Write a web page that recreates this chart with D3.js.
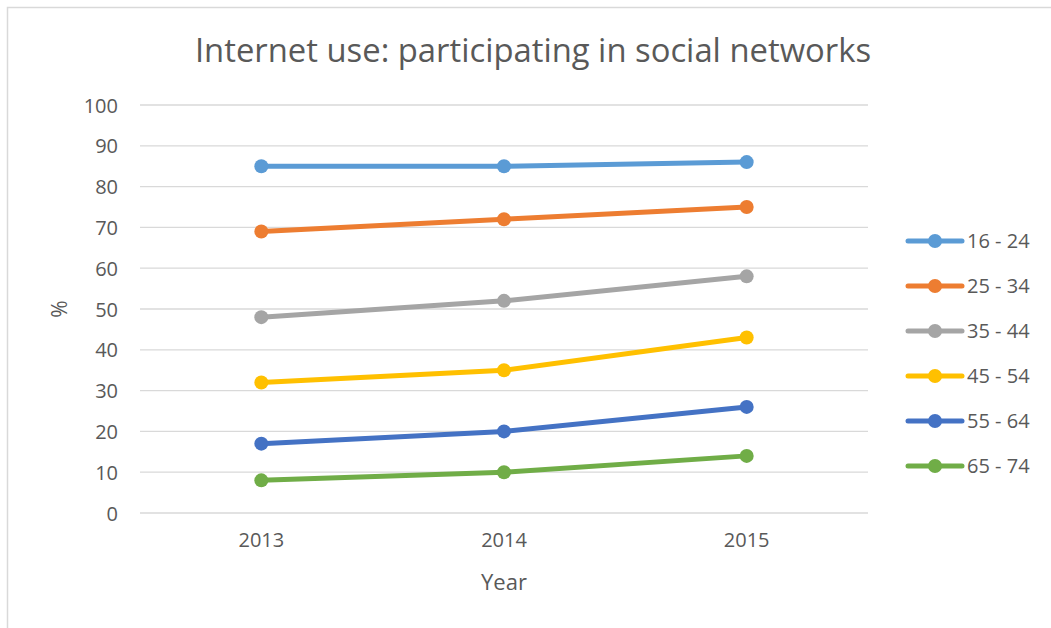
<!DOCTYPE html>
<html>
<head>
<meta charset="utf-8">
<script src="https://cdn.jsdelivr.net/npm/d3@7"></script>
<style>
  body { margin: 0; background: #fff; }
  text { font-family: "Open Sans", "Noto Sans", sans-serif; fill: #595959; }
</style>
</head>
<body>
<div id="chart"></div>
<script>
// data
const years = ["2013", "2014", "2015"];
const groups = ["16 - 24", "25 - 34", "35 - 44", "45 - 54", "55 - 64", "65 - 74"];
const v16 = [85, 85, 86];
const v25 = [69, 72, 75];
const v35 = [48, 52, 58];
const v45 = [32, 35, 43];
const v55 = [17, 20, 26];
const v65 = [8, 10, 14];
const yTicks = [0, 10, 20, 30, 40, 50, 60, 70, 80, 90, 100];
const colors = ["#5b9bd5", "#ed7d31", "#a5a5a5", "#ffc000", "#4472c4", "#70ad47"];

const seriesValues = [v16, v25, v35, v45, v55, v65];

const width = 1051, height = 628;

const svg = d3.select("#chart").append("svg")
    .attr("width", width)
    .attr("height", height);

// chart border
svg.append("rect")
    .attr("x", 7.5).attr("y", 7.5)
    .attr("width", width).attr("height", height)
    .attr("fill", "none")
    .attr("stroke", "#d9d9d9")
    .attr("stroke-width", 1.5);

const x = d3.scaleBand().domain(years).range([140, 868]);
const y = d3.scaleLinear().domain([0, 100]).range([513, 105]);

// gridlines
svg.append("g")
    .selectAll("line")
    .data(yTicks)
    .enter().append("line")
    .attr("x1", 140).attr("x2", 868)
    .attr("y1", d => y(d)).attr("y2", d => y(d))
    .attr("stroke", "#d9d9d9")
    .attr("stroke-width", 1.3);

// y axis labels
const yAxis = svg.append("g")
    .attr("transform", "translate(118,0)")
    .call(d3.axisLeft(y).tickValues(yTicks).tickSize(0).tickPadding(0));
yAxis.select(".domain").remove();
yAxis.selectAll("text")
    .style("font-size", "20px")
    .attr("fill", "#595959")
    .attr("dy", "0.35em");

// x axis labels
const xAxis = svg.append("g")
    .attr("transform", "translate(0,533)")
    .call(d3.axisBottom(x).tickSize(0).tickPadding(0));
xAxis.select(".domain").remove();
xAxis.selectAll("text")
    .style("font-size", "20px")
    .attr("fill", "#595959");

// title + axis titles
svg.append("text")
    .attr("x", 533).attr("y", 62)
    .attr("text-anchor", "middle")
    .style("font-size", "32.8px")
    .text("Internet use: participating in social networks");

svg.append("text")
    .attr("x", 504).attr("y", 590)
    .attr("text-anchor", "middle")
    .style("font-size", "22px")
    .text("Year");

svg.append("text")
    .attr("transform", "translate(67,309) rotate(-90)")
    .attr("text-anchor", "middle")
    .style("font-size", "21px")
    .text("%");

// lines
const line = d3.line()
    .x((d, i) => x(years[i]) + x.bandwidth() / 2)
    .y(d => y(d));

seriesValues.forEach((vals, k) => {
    svg.append("path")
        .datum(vals)
        .attr("d", line)
        .attr("fill", "none")
        .attr("stroke", colors[k])
        .attr("stroke-width", 5)
        .attr("stroke-linecap", "round");

    svg.append("g")
        .selectAll("circle")
        .data(vals)
        .enter().append("circle")
        .attr("cx", (d, i) => x(years[i]) + x.bandwidth() / 2)
        .attr("cy", d => y(d))
        .attr("r", 7)
        .attr("fill", colors[k]);
});

// legend
const legend = svg.append("g")
    .selectAll("g")
    .data(groups)
    .enter().append("g")
    .attr("transform", (d, i) => `translate(908,${241 + i * 45})`);

legend.append("line")
    .attr("x1", 0).attr("x2", 54)
    .attr("stroke", (d, i) => colors[i])
    .attr("stroke-width", 5)
    .attr("stroke-linecap", "round");

legend.append("circle")
    .attr("cx", 27).attr("r", 7)
    .attr("fill", (d, i) => colors[i]);

legend.append("text")
    .attr("x", 59).attr("dy", "0.35em")
    .style("font-size", "20px")
    .text(d => d);
</script>
</body>
</html>
